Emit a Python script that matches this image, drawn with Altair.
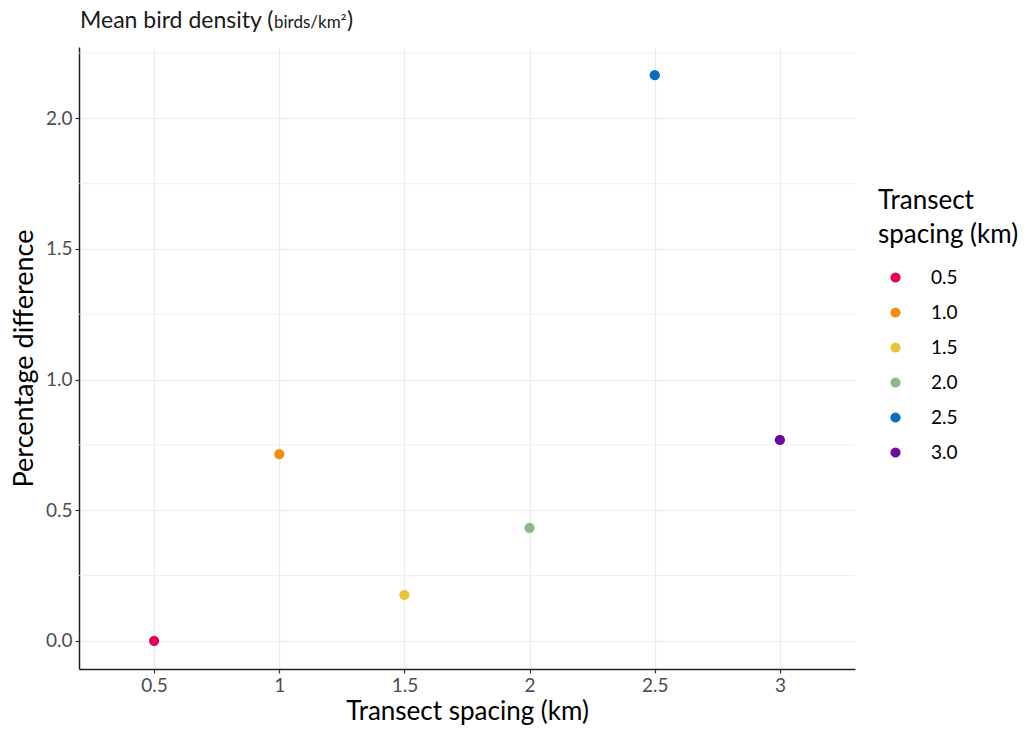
import altair as alt
import pandas as pd

# data
spacing_axis = ["0.5", "1", "1.5", "2", "2.5", "3"]
spacing_legend = ["0.5", "1.0", "1.5", "2.0", "2.5", "3.0"]
pct_diff = [0.0, 0.715, 0.176, 0.432, 2.165, 0.769]
colors = ["#E6005C", "#F98C10", "#E8C43C", "#88BC82", "#0A6DC0", "#6C0A9C"]
major_breaks = [0.0, 0.5, 1.0, 1.5, 2.0]
minor_breaks = [0.25, 0.75, 1.25, 1.75, 2.25]

FONT = "Lato"

df = pd.DataFrame({"x": spacing_axis, "grp": spacing_legend, "y": pct_diff})
minor_df = pd.DataFrame({"y": minor_breaks})

y_scale = alt.Scale(domain=[-0.108, 2.273], nice=False, zero=False)
x_scale = alt.Scale(type="point", padding=0.6)

minor = alt.Chart(minor_df).mark_rule(color="#ebebeb", strokeWidth=0.8).encode(
    y=alt.Y("y:Q", scale=y_scale)
)

points = alt.Chart(df).mark_circle(size=105, opacity=1).encode(
    x=alt.X("x:N", sort=spacing_axis, scale=x_scale,
            axis=alt.Axis(title="Transect spacing (km)", labelAngle=0, grid=True, titleFontSize=26)),
    y=alt.Y("y:Q", scale=y_scale,
            axis=alt.Axis(title="Percentage difference", values=major_breaks, format=".1f", grid=True)),
    color=alt.Color("grp:N", sort=spacing_legend,
                    scale=alt.Scale(domain=spacing_legend, range=colors),
                    legend=alt.Legend(title=["Transect", "spacing (km)"], orient="none",
                                      legendX=799, legendY=141)),
)

t1 = alt.Chart(pd.DataFrame({"t": ["Mean bird density ("]})).mark_text(
    align="left", baseline="alphabetic", fontSize=23, font=FONT, color="#1a1a1a").encode(
    x=alt.value(1), y=alt.value(-19), text="t:N")
t2 = alt.Chart(pd.DataFrame({"t": ["birds/km²"]})).mark_text(
    align="left", baseline="alphabetic", fontSize=17, font=FONT, color="#1a1a1a").encode(
    x=alt.value(195), y=alt.value(-19), text="t:N")
t3 = alt.Chart(pd.DataFrame({"t": [")"]})).mark_text(
    align="left", baseline="alphabetic", fontSize=23, font=FONT, color="#1a1a1a").encode(
    x=alt.value(268), y=alt.value(-19), text="t:N")

chart = alt.layer(minor, points, t1, t2, t3).properties(
    width=776, height=622,
    autosize=alt.AutoSizeParams(type="none"),
    padding={"left": 71, "top": 39, "right": 169, "bottom": 56},
).configure_view(stroke=None).configure_axis(
    labelFont=FONT, titleFont=FONT, labelFontSize=19, labelColor="#4d4d4d",
    titleFontSize=27, titleColor="#000000", titleFontWeight="normal",
    gridColor="#ebebeb", gridWidth=1.2, domainColor="#222222", domainWidth=1.5,
    tickColor="#333333", tickSize=4, tickWidth=1.2, labelPadding=3,
).configure_axisX(titlePadding=3, labelPadding=3).configure_axisY(titlePadding=7).configure_legend(
    titleFont=FONT, labelFont=FONT, titleFontSize=26, labelFontSize=19,
    titleFontWeight="normal", titleColor="#000000", labelColor="#000000",
    symbolType="circle", symbolSize=105, symbolStrokeWidth=0, rowPadding=15,
    titleLineHeight=34, titlePadding=20, symbolOffset=8, labelOffset=26, padding=0,
)

chart.save("out.html", embed_options={"renderer": "svg", "actions": False})
